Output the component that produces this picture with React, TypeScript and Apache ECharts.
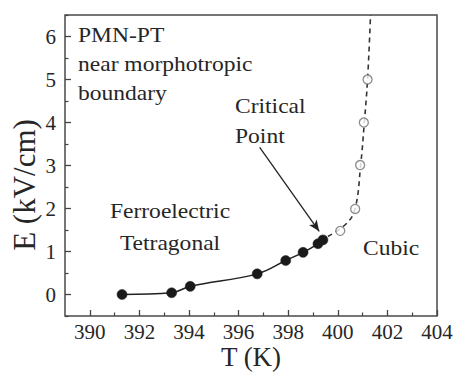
import React, { useEffect, useRef } from "react";
import * as echarts from "echarts";

// Data
const ferroT = [391.3, 393.3, 394.05, 396.75, 397.9, 398.6, 399.2, 399.4];
const ferroE = [0.0, 0.04, 0.19, 0.48, 0.79, 0.98, 1.18, 1.27];
const cubicT = [400.1, 400.7, 400.9, 401.05, 401.2];
const cubicE = [1.48, 1.99, 3.01, 4.0, 5.0];
// dashed guide line (boundary)
const dashT = [399.6, 400.35, 400.7, 400.92, 401.07, 401.2, 401.32];
const dashE = [1.35, 1.65, 2.0, 3.0, 4.0, 5.0, 6.5];
// arrow from "Critical Point" label to the critical point
const arrowFrom = [396.85, 3.42];
const arrowTo = [399.25, 1.47];

const xMajor = [390, 392, 394, 396, 398, 400, 402, 404];
const xMinor = [391, 393, 395, 397, 399, 401, 403];
const yMajor = [0, 1, 2, 3, 4, 5, 6];
const yMinor = [-0.5, 0.5, 1.5, 2.5, 3.5, 4.5, 5.5, 6.5];

const FONT = "Liberation Serif";
const TXT = "#262626";

export default function App() {
  const ref = useRef<HTMLDivElement>(null);
  useEffect(() => {
    if (!ref.current) return;
    const chart = echarts.init(ref.current, null, { renderer: "svg" });
    const zip = (a: number[], b: number[]) => a.map((v, i) => [v, b[i]]);
    const axisBase = {
      type: "value",
      axisLine: { show: false, onZero: false },
      splitLine: { show: false },
    };
    const txt = (size: number, extra: any = {}) => ({
      fontFamily: FONT,
      fontSize: size,
      fill: TXT,
      ...extra,
    });
    const SX = 1.07;
    chart.setOption({
      animation: false,
      backgroundColor: "#ffffff",
      grid: {
        left: 65,
        right: 19,
        top: 15,
        bottom: 56,
        show: true,
        borderColor: "#4a4a4a",
        borderWidth: 1.5,
        backgroundColor: "transparent",
        outerBoundsMode: "none",
      },
      xAxis: [
        {
          ...axisBase,
          min: 389,
          max: 404,
          position: "bottom",
          axisTick: { show: true, inside: true, length: 6, customValues: xMajor, lineStyle: { color: "#444", width: 1.3 } },
          axisLabel: { customValues: xMajor, fontFamily: FONT, fontSize: 21, color: TXT, margin: 5 },
        },
        {
          ...axisBase,
          min: 389,
          max: 404,
          position: "bottom",
          axisTick: { show: true, inside: true, length: 3.5, customValues: xMinor, lineStyle: { color: "#444", width: 1.2 } },
          axisLabel: { show: false },
        },
      ],
      yAxis: [
        {
          ...axisBase,
          min: -0.5,
          max: 6.5,
          position: "left",
          axisTick: { show: true, inside: true, length: 6, customValues: yMajor, lineStyle: { color: "#444", width: 1.3 } },
          axisLabel: { customValues: yMajor, fontFamily: FONT, fontSize: 21, color: TXT, margin: 9 },
        },
        {
          ...axisBase,
          min: -0.5,
          max: 6.5,
          position: "left",
          axisTick: { show: true, inside: true, length: 3.5, customValues: yMinor, lineStyle: { color: "#444", width: 1.2 } },
          axisLabel: { show: false },
        },
      ],
      graphic: [
        {
          type: "text",
          x: 78,
          y: 20,
          scaleX: SX,
          style: txt(22, { text: "PMN-PT\nnear morphotropic\nboundary", lineHeight: 29 }),
        },
        {
          type: "text",
          x: 235,
          y: 91,
          scaleX: SX,
          style: txt(22, { text: "Critical\nPoint", lineHeight: 30 }),
        },
        {
          type: "text",
          x: 170,
          y: 195,
          scaleX: SX,
          style: txt(22, { text: "Ferroelectric\nTetragonal", lineHeight: 32, align: "center" }),
        },
        {
          type: "text",
          x: 363,
          y: 237,
          scaleX: SX,
          style: txt(22, { text: "Cubic" }),
        },
        {
          type: "text",
          x: 251,
          y: 357,
          style: txt(27, { text: "T (K)", align: "center", verticalAlign: "middle" }),
        },
        {
          type: "text",
          x: 24,
          y: 185,
          rotation: Math.PI / 2,
          style: txt(31, { text: "E (kV/cm)", align: "center", verticalAlign: "middle" }),
        },
      ],
      series: [
        {
          type: "line",
          data: zip(dashT, dashE),
          smooth: 0.4,
          showSymbol: false,
          symbol: "none",
          lineStyle: { color: "#333", width: 1.6, type: [5, 4] },
          silent: true,
          z: 2,
        },
        {
          type: "line",
          data: zip(ferroT, ferroE),
          smooth: 0.4,
          symbol: "circle",
          symbolSize: 10,
          showSymbol: true,
          itemStyle: { color: "#1a1a1a", borderColor: "#1a1a1a", borderWidth: 0.5 },
          lineStyle: { color: "#222", width: 1.5 },
          silent: true,
          z: 3,
          markLine: {
            silent: true,
            symbol: ["none", "arrow"],
            symbolSize: [7, 11],
            label: { show: false },
            lineStyle: { color: "#222", width: 1.3, type: "solid" },
            data: [[{ coord: arrowFrom }, { coord: arrowTo }]],
          },
        },
        {
          type: "scatter",
          data: zip(cubicT, cubicE),
          symbol: "circle",
          symbolSize: 9,
          itemStyle: { color: "#ffffff", borderColor: "#707070", borderWidth: 1.3 },
          silent: true,
          z: 4,
        },
      ],
    });
    return () => chart.dispose();
  }, []);
  return (
    <div
      ref={ref}
      style={{ position: "fixed", left: 0, top: 0, width: 456, height: 372, background: "#fff" }}
    />
  );
}
